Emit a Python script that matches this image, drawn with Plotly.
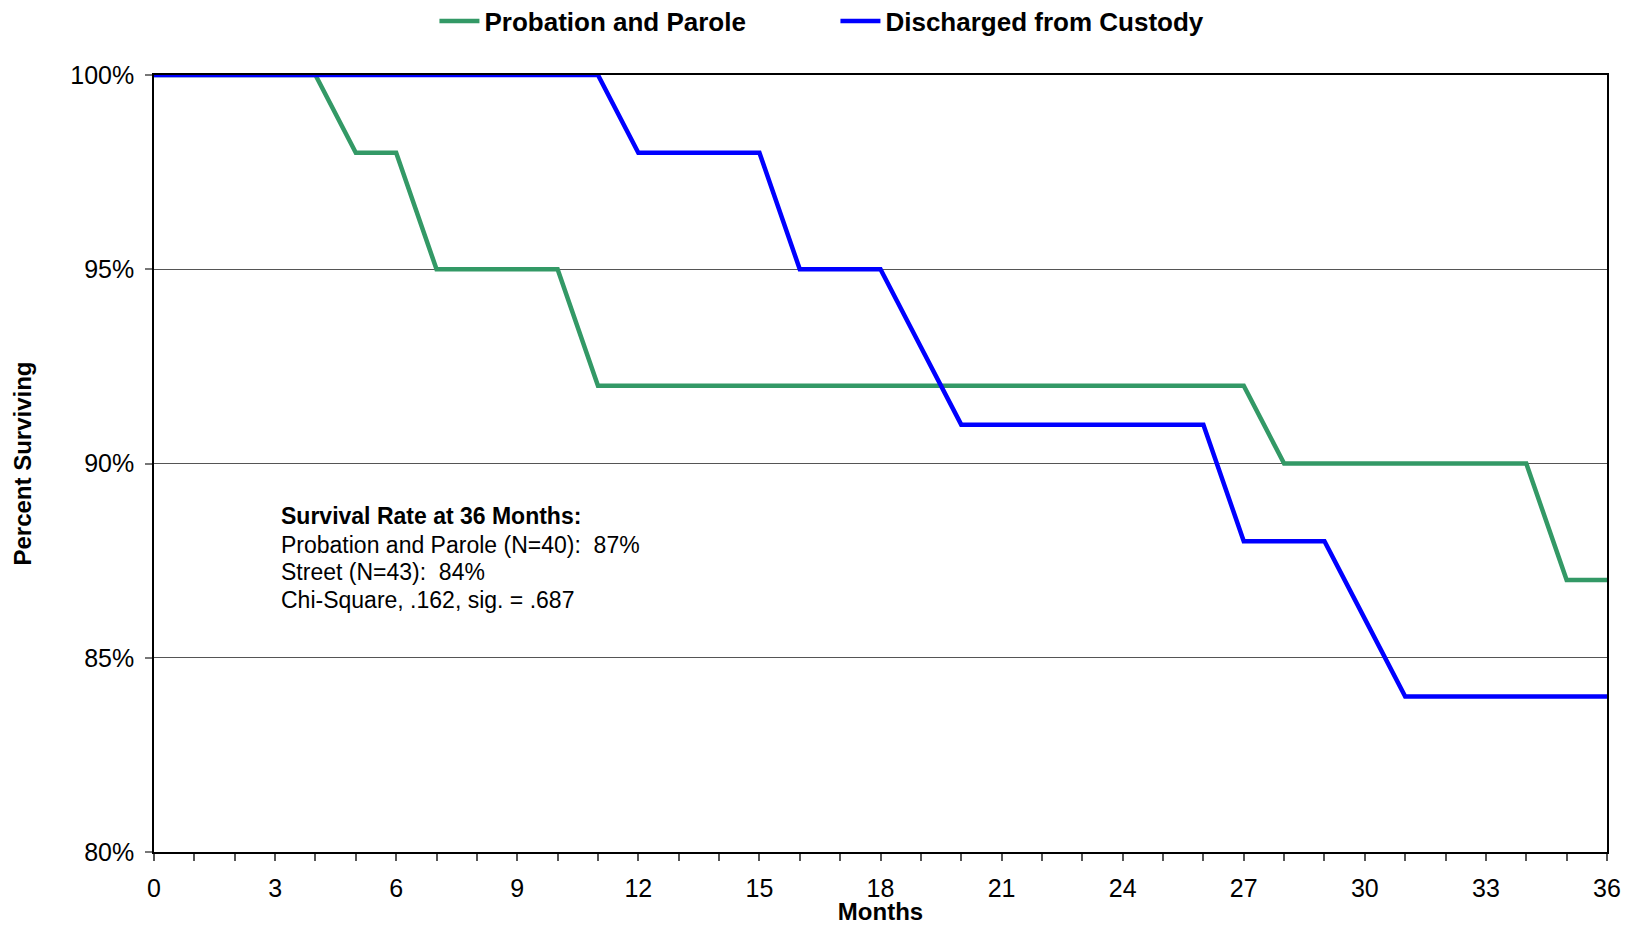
import plotly.graph_objects as go

months = list(range(0, 37))
probation_parole = [100, 100, 100, 100, 100, 98, 98, 95, 95, 95, 95, 92, 92, 92, 92, 92, 92, 92, 92,
                    92, 92, 92, 92, 92, 92, 92, 92, 92, 90, 90, 90, 90, 90, 90, 90, 87, 87]
discharged = [100, 100, 100, 100, 100, 100, 100, 100, 100, 100, 100, 100, 98, 98, 98, 98, 95, 95, 95,
              93, 91, 91, 91, 91, 91, 91, 91, 88, 88, 88, 86, 84, 84, 84, 84, 84, 84]
series_names = ["Probation and Parole", "Discharged from Custody"]
series_colors = ["#339966", "#0000FF"]
x_ticks = list(range(0, 37, 3))
y_ticks = [80, 85, 90, 95, 100]
note_lines = ["<b>Survival Rate at 36 Months:</b>",
              "Probation and Parole (N=40):&nbsp; 87%",
              "Street (N=43):&nbsp; 84%",
              "Chi-Square, .162, sig. = .687"]

FONT = "Liberation Sans, Arial, sans-serif"

fig = go.Figure()
for name, vals, col in zip(series_names, [probation_parole, discharged], series_colors):
    fig.add_trace(go.Scatter(x=months, y=vals, mode="lines", name=name,
                             line=dict(color=col, width=4.5), hoverinfo="skip"))

plot_top, plot_bot = 75, 852
line_px = [515.5, 544.7, 571.8, 599.9]
for txt, py in zip(note_lines, line_px):
    fig.add_annotation(text=txt, xref="paper", yref="paper",
                       x=(279 - 154) / 1453, y=(plot_bot - py) / (plot_bot - plot_top),
                       xanchor="left", yanchor="middle", showarrow=False,
                       font=dict(family=FONT, size=23, color="black"))

fig.update_layout(
    width=1633, height=925,
    margin=dict(l=154, r=26, t=75, b=73, autoexpand=False),
    paper_bgcolor="white", plot_bgcolor="white",
    font=dict(family=FONT, color="black"),
    showlegend=True,
    legend=dict(orientation="h", xref="container", x=0.5116, xanchor="center",
                yref="container", y=1 - 21 / 925, yanchor="middle",
                font=dict(family=FONT, size=26, color="black", weight="bold"),
                entrywidth=346, itemwidth=40, bgcolor="rgba(0,0,0,0)"),
    xaxis=dict(range=[0, 36], tickvals=x_ticks, ticktext=[str(v) for v in x_ticks],
               ticks="outside", ticklen=7, tickcolor="#555", tickwidth=1.5,
               minor=dict(dtick=1, ticks="outside", ticklen=7, tickcolor="#555", tickwidth=1.5, showgrid=False),
               showgrid=False, zeroline=False, ticklabelstandoff=6,
               showline=True, linecolor="black", linewidth=1.5, mirror=True,
               tickfont=dict(family=FONT, size=25, color="black"),
               title=dict(text="<b>Months</b>", font=dict(family=FONT, size=24, color="black"), standoff=3)),
    yaxis=dict(range=[80, 100], tickvals=y_ticks, ticktext=[f"{v}%" for v in y_ticks],
               ticks="outside", ticklen=7, tickcolor="#777", tickwidth=1.5,
               showgrid=True, gridcolor="#555", gridwidth=1, zeroline=False, ticklabelstandoff=6,
               showline=True, linecolor="black", linewidth=1.5, mirror=True,
               tickfont=dict(family=FONT, size=25, color="black"),
               title=dict(text="<b>Percent Surviving</b>", font=dict(family=FONT, size=24, color="black"), standoff=32)),
)

fig.write_html("out.html", config={"displayModeBar": False},
               post_script="document.body.style.margin='0';document.body.style.overflow='hidden';")
